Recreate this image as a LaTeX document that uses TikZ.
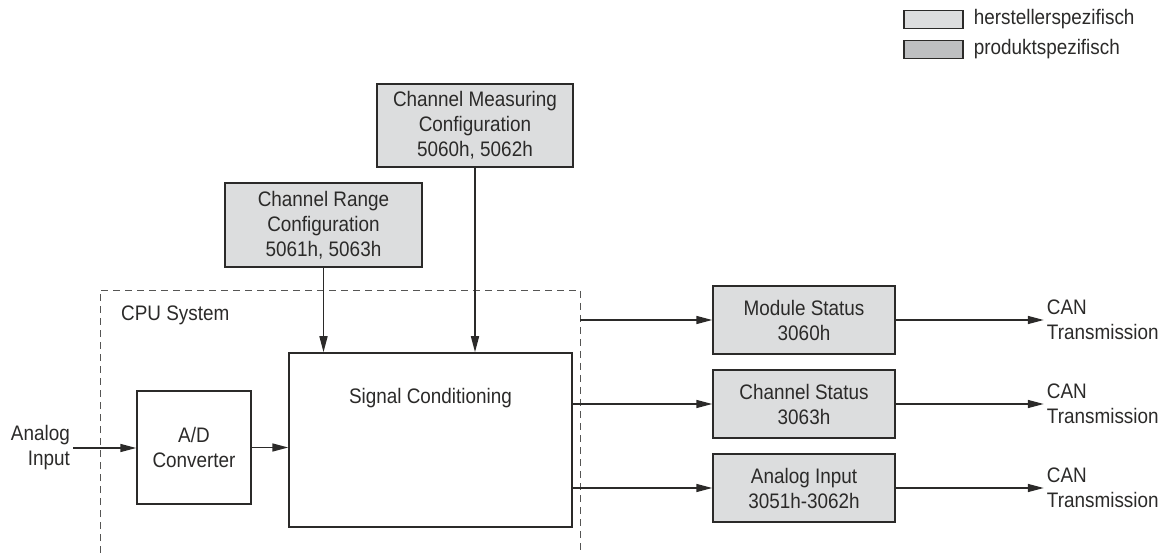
\documentclass[tikz,border=0pt]{standalone}
\usepackage{fontspec}
\setmainfont{Liberation Sans}[FakeStretch=0.9]
\usetikzlibrary{arrows.meta,calc,positioning}
\definecolor{ink}{HTML}{2B2A29}
\definecolor{lightgrey}{HTML}{DCDDDE}
\definecolor{midgrey}{HTML}{BEBFC1}

\begin{document}
\begin{tikzpicture}[x=1pt,y=-1pt,font=\fontsize{21}{25}\selectfont,>={Triangle[length=16pt,width=8pt]},line join=miter]
  \tikzset{block/.style={draw=ink,line width=1.5pt,fill=lightgrey,text=ink,align=center,inner sep=0pt},
    plainblock/.style={block,fill=white},
    txt/.style={text=ink,inner sep=3pt},
    flow/.style={->,draw=ink,line width=1.5pt},
    frame/.style={draw=ink!80,line width=0.9pt,dash pattern=on 7pt off 5pt}}
  \useasboundingbox (0,0) rectangle (1176,553);
  % Legend
  \node[block,line width=1.2pt,minimum width=59pt,minimum height=18pt] (keyvendor) at (933.5,19.5) {};
  \node[block,line width=1.2pt,fill=midgrey,minimum width=59pt,minimum height=18pt] (keyproduct) at (933.5,49.5) {};
  \node[txt,right=7pt of keyvendor] (keyvendortext) {herstellerspezifisch};
  \node[txt,right=7pt of keyproduct] (keyproducttext) {produktspezifisch};
  % Configuration objects
  \node[block,minimum width=196pt,minimum height=83pt] (measure) at (475,125.5) {Channel Measuring\\Configuration\\5060h, 5062h};
  \node[block,minimum width=197pt,minimum height=84pt] (range) at (323.5,225) {Channel Range\\Configuration\\5061h, 5063h};
  % CPU system
  \coordinate (cpusw) at (100,553);
  \coordinate (cpunw) at (100,290);
  \coordinate (cpune) at (580,290);
  \coordinate (cpuse) at (580,553);
  \draw[frame] (cpusw) -- (cpunw) -- (cpune) -- (cpuse);
  \node[txt,anchor=west] (cpulabel) at (118,315) {CPU System};
  \node[plainblock,minimum width=283pt,minimum height=174pt] (signal) at (430.5,440) {};
  \node[txt] (signaltext) at ([yshift=-46pt]signal.north) {Signal Conditioning};
  \node[plainblock,minimum width=114pt,minimum height=113pt] (adc) at (194,447.5) {A/D\\Converter};
  \node[txt,align=right,anchor=east] (input) at (73,448) {Analog\\Input};
  % Output objects
  \node[block,minimum width=182pt,minimum height=68pt] (modstat) at (804,320) {Module Status\\3060h};
  \node[block,minimum width=182pt,minimum height=68pt] (chanstat) at (804,404) {Channel Status\\3063h};
  \node[block,minimum width=182pt,minimum height=68pt] (anain) at (804,488) {Analog Input\\3051h-3062h};
  \foreach \src/\dst in {modstat/canone,chanstat/cantwo,anain/canthree}{
    \node[txt,align=left,right=148pt of \src] (\dst) {CAN\\Transmission};
    \draw[flow] (\src.east) -- (\dst.west);
  }
  % Connectors
  \draw[flow] (input.east) -- (input.east -| adc.west);
  \draw[flow] (adc.east) -- (adc.east -| signal.west);
  \draw[flow] (range.south) -- (range.south |- signal.north);
  \draw[flow] (measure.south) -- (measure.south |- signal.north);
  \draw[flow] (modstat.west -| cpune) -- (modstat.west);
  \draw[flow] (chanstat.west -| signal.east) -- (chanstat.west);
  \draw[flow] (anain.west -| signal.east) -- (anain.west);
\end{tikzpicture}
\end{document}
